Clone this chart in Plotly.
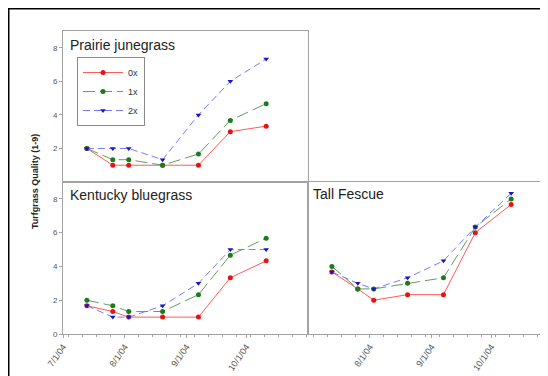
import plotly.graph_objects as go
from datetime import datetime, timedelta

# ---------------- data ----------------
dates = ["2004-07-13", "2004-07-26", "2004-08-03", "2004-08-20",
         "2004-09-07", "2004-09-23", "2004-10-11"]
series_names = ["0x", "1x", "2x"]
panel_titles = ["Prairie junegrass", "Kentucky bluegrass", "Tall Fescue"]

prairie_0x = [2, 1, 1, 1, 1, 3, 3.33]
prairie_1x = [2, 1.33, 1.33, 1, 1.67, 3.67, 4.67]
prairie_2x = [2, 2, 2, 1.33, 4, 6, 7.33]

kentucky_0x = [1.67, 1.33, 1, 1, 1, 3.33, 4.33]
kentucky_1x = [2, 1.67, 1.33, 1.33, 2.33, 4.67, 5.67]
kentucky_2x = [1.67, 1, 1, 1.67, 3, 5, 5]

fescue_0x = [3.67, 2.67, 2, 2.33, 2.33, 6, 7.67]
fescue_1x = [4, 2.67, 2.67, 3, 3.33, 6.33, 8]
fescue_2x = [3.67, 3, 2.67, 3.33, 4.33, 6.33, 8.33]

y_ticks_top = [2, 4, 6, 8]
y_ticks_bottom = [0, 2, 4, 6, 8]
x_ticks_left = ["2004-07-01", "2004-08-01", "2004-09-01", "2004-10-01"]
x_ticktext_left = ["7/1/04", "8/1/04", "9/1/04", "10/1/04"]
x_ticks_right = ["2004-08-01", "2004-09-01", "2004-10-01", "2004-11-01"]
x_ticktext_right = ["8/1/04", "9/1/04", "10/1/04", "11/1/04"]
x_start = "2004-07-01"
x_end = "2004-11-01"
y_range = [0, 9]
y_title = "Turfgrass Quality (1-9)"

# ---------------- styling ----------------
W, H = 548, 376
OFF = 8  # page body margin offset
line_colors = ["#ff5a5a", "#5f9f5f", "#7a7aff"]
marker_colors = ["#e01515", "#1d7a1d", "#1515c8"]
dashes = ["solid", "12px,5px", "7px,4px"]
symbols = ["circle", "circle", "triangle-down"]
axis_gray = "#a3a3a3"
FONT = "Liberation Sans, Arial, sans-serif"
ytick_font = dict(family=FONT, size=8, color="#555555")
xtick_font = dict(family=FONT, size=9, color="#555555")


def fx(p):  # reference page px -> paper fraction
    return (p - OFF) / W


def fy(p):
    return (H - (p - OFF)) / H


left_x0, mid_x, right_x1 = 63, 308, 553
top_y0, mid_y, bot_y1 = 31, 182, 334

# right panel runs to the figure edge; keep the same px-per-day scale
t0 = datetime.fromisoformat(x_start)
t1 = datetime.fromisoformat(x_end)
right_edge_px = W + OFF
t1_right = t0 + (t1 - t0) * ((right_edge_px - mid_x) / (right_x1 - mid_x))
range_left = [x_start, x_end]
range_right = [x_start, t1_right.isoformat()]

fig = go.Figure()

panels = [
    ([prairie_0x, prairie_1x, prairie_2x], "x", "y"),
    ([kentucky_0x, kentucky_1x, kentucky_2x], "x2", "y2"),
    ([fescue_0x, fescue_1x, fescue_2x], "x3", "y3"),
]
for pi, (series, xa, ya) in enumerate(panels):
    for si, vals in enumerate(series):
        fig.add_trace(go.Scatter(
            x=dates, y=vals, xaxis=xa, yaxis=ya,
            mode="lines+markers", name=series_names[si],
            showlegend=(pi == 0), cliponaxis=False,
            line=dict(color=line_colors[si], width=1, dash=dashes[si]),
            marker=dict(color=marker_colors[si], size=5, symbol=symbols[si],
                        line=dict(width=0)),
        ))

common_x = dict(type="date", showgrid=False, zeroline=False,
                showline=True, linecolor=axis_gray, linewidth=1,
                tickfont=xtick_font, tickangle=-55, ticks="outside",
                ticklen=3, tickcolor=axis_gray)
common_y = dict(range=y_range, showgrid=False, zeroline=False, showline=True,
                linecolor=axis_gray, linewidth=1, tickfont=ytick_font,
                ticks="outside", ticklen=3, tickcolor=axis_gray)
minor_x = dict(dtick=7 * 86400000, ticks="outside", ticklen=2, tickcolor=axis_gray)

fig.update_layout(
    width=W, height=H,
    margin=dict(l=0, r=0, t=0, b=0, pad=0, autoexpand=False),
    paper_bgcolor="#adadad",
    plot_bgcolor="white",
    font=dict(family=FONT, color="#222222"),
    xaxis=dict(common_x, domain=[fx(left_x0), fx(mid_x)], anchor="y",
               range=range_left, showticklabels=False, ticks="", mirror=True),
    yaxis=dict(common_y, domain=[fy(mid_y), fy(top_y0)], anchor="x",
               tickvals=y_ticks_top, mirror=True),
    xaxis2=dict(common_x, domain=[fx(left_x0), fx(mid_x)], anchor="y2",
                range=range_left, tickvals=x_ticks_left,
                ticktext=x_ticktext_left, mirror=True, minor=minor_x),
    yaxis2=dict(common_y, domain=[fy(bot_y1), fy(mid_y)], anchor="x2",
                tickvals=y_ticks_bottom, mirror=True),
    xaxis3=dict(common_x, domain=[fx(mid_x), 1], anchor="y3",
                range=range_right, tickvals=x_ticks_right,
                ticktext=x_ticktext_right, mirror=True, minor=minor_x),
    yaxis3=dict(common_y, domain=[fy(bot_y1), fy(mid_y)], anchor="x3",
                showticklabels=False, ticks=""),
    legend=dict(x=fx(77), y=fy(57), xanchor="left", yanchor="top",
                bgcolor="white", bordercolor="#8a8a8a", borderwidth=1,
                font=dict(size=9, color="#333333"), itemwidth=40,
                tracegroupgap=0),
    shapes=[dict(type="rect", xref="paper", yref="paper",
                 x0=0.75 / W, x1=1.2, y0=-0.2, y1=1 - 0.75 / H,
                 fillcolor="white", line=dict(color="black", width=1.5),
                 layer="below")],
)

annotations = [
    dict(text=panel_titles[0], x=fx(68), y=fy(35)),
    dict(text=panel_titles[1], x=fx(68), y=fy(185)),
    dict(text=panel_titles[2], x=fx(311), y=fy(184)),
]
for a in annotations:
    fig.add_annotation(xref="paper", yref="paper", xanchor="left", yanchor="top",
                       showarrow=False, font=dict(size=14, color="#222222"), **a)

fig.add_annotation(xref="paper", yref="paper", x=fx(35), y=fy(mid_y),
                   text="<b>" + y_title + "</b>", textangle=-90, showarrow=False,
                   xanchor="center", yanchor="middle",
                   font=dict(size=9, color="#222222"))

fig.write_html("out.html")
